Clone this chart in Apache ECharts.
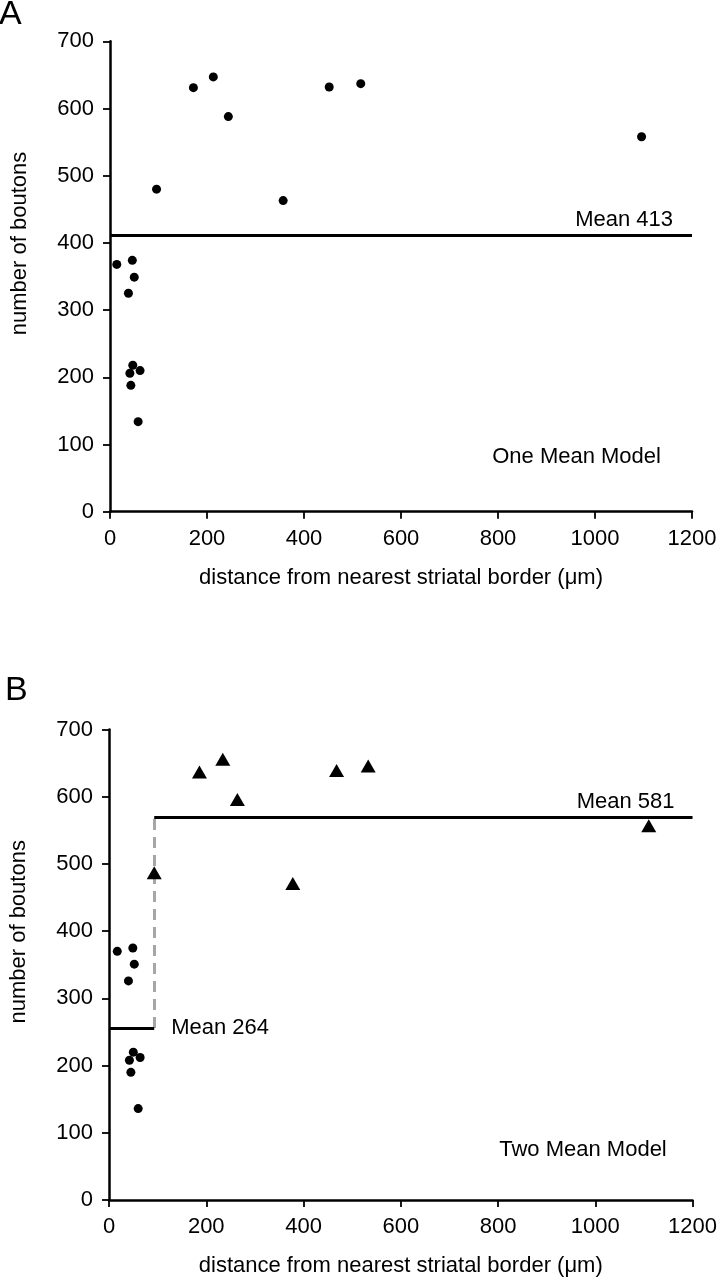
<!DOCTYPE html>
<html><head><meta charset="utf-8">
<script src="https://cdn.jsdelivr.net/npm/echarts@6/dist/echarts.min.js"></script>
<style>html,body{margin:0;padding:0;background:#fff}#c{width:720px;height:1280px}</style>
</head><body><div id="c"></div>
<script>
// ---- data ----
const xTickValues = [0, 200, 400, 600, 800, 1000, 1200];
const yTickValues = [0, 100, 200, 300, 400, 500, 600, 700];

// Panel A: one mean model
const distA = [14, 46, 50, 38, 47, 41, 62, 43, 58, 172, 213, 244, 96, 357, 452, 517, 1096];
const boutonsA = [368, 374, 349, 325, 218, 206, 210, 188, 134, 631, 647, 588, 480, 463, 632, 637, 558];
const meanA = 412;
const meanALabel = 'Mean 413';

// Panel B: two mean model
const distBNear = [17, 49, 52, 40, 50, 42, 64, 45, 60];
const boutonsBNear = [370, 375, 351, 326, 220, 208, 212, 190, 136];
const distBFar = [93, 186, 234, 264, 378, 468, 533, 1110];
const boutonsBFar = [487, 637, 656, 596, 471, 639, 646, 557];
const splitB = 93;
const meanBNear = 256;
const meanBFar = 570;
const meanBNearLabel = 'Mean 264';
const meanBFarLabel = 'Mean 581';

const xTitle = 'distance from nearest striatal border (μm)';
const yTitle = 'number of boutons';
const modelA = 'One Mean Model';
const modelB = 'Two Mean Model';

// ---- chart ----
const FONT = '"Liberation Sans", Arial, Helvetica, sans-serif';
const zip = (a, b) => a.map((v, i) => [v, b[i]]);

function xAxis(gi) {
  return {
    type: 'value', gridIndex: gi,
    min: xTickValues[0], max: xTickValues[xTickValues.length - 1],
    interval: xTickValues[1] - xTickValues[0],
    name: xTitle, nameLocation: 'middle', nameGap: 55,
    nameTextStyle: { fontSize: 22, color: '#000', fontFamily: FONT },
    axisLine: { show: true, onZero: false, lineStyle: { color: '#000', width: 2.5 } },
    axisTick: { show: true, length: 7, lineStyle: { color: '#000', width: 1.8 } },
    axisLabel: { fontSize: 22, color: '#000', margin: 16, fontFamily: FONT, formatter: v => String(v) },
    splitLine: { show: false }
  };
}
function yAxis(gi) {
  return {
    type: 'value', gridIndex: gi,
    min: yTickValues[0], max: yTickValues[yTickValues.length - 1],
    interval: yTickValues[1] - yTickValues[0],
    name: yTitle, nameLocation: 'middle', nameGap: 79,
    nameTextStyle: { fontSize: 22, color: '#000', fontFamily: FONT, padding: [0, 0, 0, 66] },
    axisLine: { show: true, onZero: false, lineStyle: { color: '#000', width: 2.5 } },
    axisTick: { show: true, length: 7, lineStyle: { color: '#000', width: 1.8 } },
    axisLabel: { fontSize: 22, color: '#000', margin: 16, fontFamily: FONT, formatter: v => String(v) },
    splitLine: { show: false }
  };
}
const meanLabel = (text, pos, dist, pad) => ({
  show: true, position: pos, formatter: text, distance: dist,
  fontSize: 22, color: '#000', fontFamily: FONT, padding: pad || 0
});
const solid = { color: '#000', width: 3, type: 'solid', opacity: 1 };
const markStyle = { color: '#000', opacity: 1 };

const chart = echarts.init(document.getElementById('c'), null, { renderer: 'canvas' });
chart.setOption({
  animation: false,
  backgroundColor: '#fff',
  grid: [
    { left: 110, right: 28, top: 41.3, height: 470.4, containLabel: false },
    { left: 108.3, right: 27.3, top: 729.6, height: 470.4, containLabel: false }
  ],
  xAxis: [xAxis(0), xAxis(1)],
  yAxis: [yAxis(0), yAxis(1)],
  series: [
    {
      type: 'scatter', xAxisIndex: 0, yAxisIndex: 0,
      data: zip(distA, boutonsA), symbol: 'circle', symbolSize: 9,
      itemStyle: markStyle, silent: true,
      markLine: {
        silent: true, symbol: ['none', 'none'], animation: false,
        lineStyle: solid,
        data: [[{ coord: [xTickValues[0], meanA] }, { coord: [xTickValues[xTickValues.length - 1], meanA] }]],
        label: meanLabel(meanALabel, 'insideEndTop', [19, 4])
      }
    },
    {
      type: 'scatter', xAxisIndex: 1, yAxisIndex: 1, z: 1,
      data: [], silent: true,
      markLine: {
        silent: true, symbol: ['none', 'none'], animation: false, z: 1,
        data: [
          [{ coord: [splitB, meanBNear], lineStyle: { color: '#a6a6a6', width: 3, type: [11, 7], opacity: 1 },
             label: { show: false } },
           { coord: [splitB, meanBFar] }]
        ]
      }
    },
    {
      type: 'scatter', xAxisIndex: 1, yAxisIndex: 1, z: 3,
      data: zip(distBNear, boutonsBNear), symbol: 'circle', symbolSize: 9,
      itemStyle: markStyle, silent: true,
      markLine: {
        silent: true, symbol: ['none', 'none'], animation: false,
        data: [
          [{ coord: [xTickValues[0], meanBNear], lineStyle: solid,
             label: meanLabel(meanBNearLabel, 'end', 17, [0, 0, 13, 0]) },
           { coord: [splitB, meanBNear] }]
        ]
      }
    },
    {
      type: 'scatter', xAxisIndex: 1, yAxisIndex: 1, z: 6,
      data: zip(distBFar, boutonsBFar), symbol: 'triangle', symbolSize: [15, 13],
      itemStyle: markStyle, silent: true,
      markLine: {
        silent: true, symbol: ['none', 'none'], animation: false,
        lineStyle: solid,
        data: [[{ coord: [splitB, meanBFar] }, { coord: [xTickValues[xTickValues.length - 1], meanBFar] }]],
        label: meanLabel(meanBFarLabel, 'insideEndTop', [18, 4])
      }
    }
  ]
});

const pA = chart.convertToPixel({ gridIndex: 0 }, [1136, 82]);
const pB = chart.convertToPixel({ gridIndex: 1 }, [1147, 74]);
chart.setOption({
  graphic: [
    { type: 'text', x: -1, y: -2, style: { text: 'A', fontSize: 34, fill: '#000', fontFamily: FONT } },
    { type: 'text', x: 5, y: 674, style: { text: 'B', fontSize: 34, fill: '#000', fontFamily: FONT } },
    { type: 'text', x: pA[0], y: pA[1], style: { text: modelA, fontSize: 22, fill: '#000', fontFamily: FONT, align: 'right', verticalAlign: 'middle' } },
    { type: 'text', x: pB[0], y: pB[1], style: { text: modelB, fontSize: 22, fill: '#000', fontFamily: FONT, align: 'right', verticalAlign: 'middle' } }
  ]
});
</script></body></html>
